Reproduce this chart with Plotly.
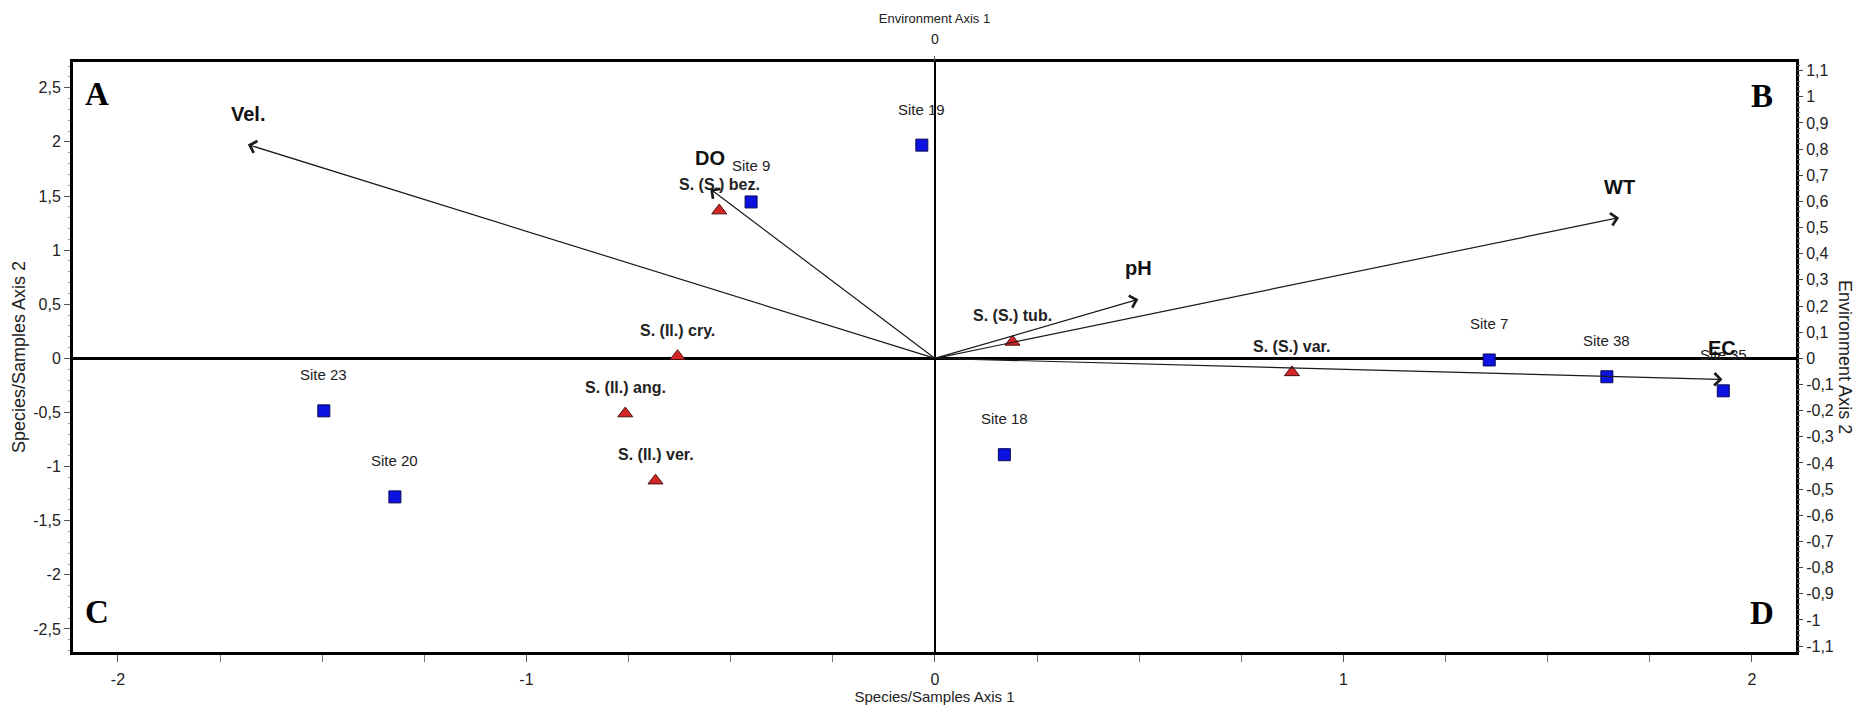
import plotly.graph_objects as go

# ---------------- data ----------------
site_names = ["Site 19", "Site 9", "Site 23", "Site 20", "Site 18", "Site 7", "Site 38", "Site 35"]
site_x = [-0.032, -0.45, -1.496, -1.322, 0.17, 1.357, 1.645, 1.93]
site_y = [1.97, 1.445, -0.485, -1.28, -0.89, -0.015, -0.17, -0.30]

species_names = ["S. (S.) bez.", "S. (Il.) cry.", "S. (Il.) ang.", "S. (Il.) ver.", "S. (S.) tub.", "S. (S.) var."]
species_x = [-0.528, -0.63, -0.758, -0.684, 0.19, 0.874]
species_y = [1.365, 0.02, -0.51, -1.13, 0.152, -0.13]

env_names = ["Vel.", "DO", "pH", "WT", "EC"]
env_x = [-1.682, -0.55, 0.498, 1.675, 1.928]
env_y = [1.975, 1.565, 0.545, 1.30, -0.195]

quadrant_letters = ["A", "B", "C", "D"]

x_tickvals = [-2, -1, 0, 1, 2]
x_ticktext = ["-2", "-1", "0", "1", "2"]
y_tickvals = [2.5, 2, 1.5, 1, 0.5, 0, -0.5, -1, -1.5, -2, -2.5]
y_ticktext = ["2,5", "2", "1,5", "1", "0,5", "0", "-0,5", "-1", "-1,5", "-2", "-2,5"]
y2_tickvals = [1.1, 1.0, 0.9, 0.8, 0.7, 0.6, 0.5, 0.4, 0.3, 0.2, 0.1, 0,
               -0.1, -0.2, -0.3, -0.4, -0.5, -0.6, -0.7, -0.8, -0.9, -1.0, -1.1]
y2_ticktext = ["1,1", "1", "0,9", "0,8", "0,7", "0,6", "0,5", "0,4", "0,3", "0,2", "0,1", "0",
               "-0,1", "-0,2", "-0,3", "-0,4", "-0,5", "-0,6", "-0,7", "-0,8", "-0,9", "-1", "-1,1"]
x2_tickvals = [0]
x2_ticktext = ["0"]

# ---------------- figure ----------------
TXT = "#222222"
FONT = "Arial, Liberation Sans, sans-serif"
fig = go.Figure()

# environmental arrows (annotation arrows from origin to tip)
for name, ex, ey in zip(env_names, env_x, env_y):
    fig.add_annotation(x=ex, y=ey, ax=0, ay=0, xref="x", yref="y", axref="x", ayref="y",
                       text="", showarrow=True, arrowhead=4, arrowsize=2.0,
                       arrowwidth=1.2, arrowcolor="#1a1a1a", standoff=0)

# species triangles
fig.add_trace(go.Scatter(
    x=species_x, y=species_y, mode="markers", name="Species",
    marker=dict(symbol="triangle-up", size=13, color="#d42626",
                line=dict(color="#4a0d0d", width=1)),
    hoverinfo="text", text=species_names, showlegend=False))

# site squares
fig.add_trace(go.Scatter(
    x=site_x, y=site_y, mode="markers", name="Sites",
    marker=dict(symbol="square", size=12, color="#0c12e0",
                line=dict(color="#0a0a55", width=1)),
    hoverinfo="text", text=site_names, showlegend=False))

# dummy trace for the environment axes
fig.add_trace(go.Scatter(x=[0], y=[0], xaxis="x2", yaxis="y2", mode="markers",
                         marker=dict(opacity=0), hoverinfo="skip", showlegend=False))

# labels
for name, sx, sy in zip(site_names, site_x, site_y):
    fig.add_annotation(x=sx, y=sy, xref="x", yref="y", text=name, showarrow=False,
                       yshift=36, font=dict(family=FONT, size=15, color=TXT))
for name, sx, sy in zip(species_names, species_x, species_y):
    fig.add_annotation(x=sx, y=sy, xref="x", yref="y", text="<b>%s</b>" % name, showarrow=False,
                       yshift=26, font=dict(family=FONT, size=16, color=TXT))
for name, ex, ey in zip(env_names, env_x, env_y):
    fig.add_annotation(x=ex, y=ey, xref="x", yref="y", text="<b>%s</b>" % name, showarrow=False,
                       yshift=31, font=dict(family=FONT, size=20, color="#111111"))

# quadrant letters
quad_pos = [(0.014, 0.946), (0.980, 0.942), (0.014, 0.068), (0.980, 0.066)]
for letter, (px, py) in zip(quadrant_letters, quad_pos):
    fig.add_annotation(x=px, y=py, xref="paper", yref="paper", text="<b>%s</b>" % letter,
                       showarrow=False, xanchor="center", yanchor="middle",
                       font=dict(family="Liberation Serif, Times New Roman, serif", size=33, color="#000000"))

# right axis title (reads top to bottom)
fig.add_annotation(x=1.0284, y=0.5, xref="paper", yref="paper", text="Environment Axis 2",
                   textangle=90, showarrow=False, xanchor="center", yanchor="middle",
                   font=dict(family=FONT, size=18, color=TXT))

tickfont = dict(family=FONT, size=16, color=TXT)

fig.update_layout(
    width=1856, height=697,
    margin=dict(l=65, r=68, t=54, b=53, autoexpand=False),
    paper_bgcolor="white", plot_bgcolor="white",
    showlegend=False,
    xaxis=dict(range=[-2.11, 2.108], tickmode="array", tickvals=x_tickvals, ticktext=x_ticktext,
               automargin=False,
               ticks="outside", ticklen=7, tickwidth=1, tickcolor="#555555", ticklabelstandoff=4,
               minor=dict(dtick=0.25, tick0=0, ticks="outside", ticklen=7, tickcolor="#777777"),
               showline=True, linewidth=3, linecolor="black", mirror=True,
               showgrid=False, zeroline=True, zerolinecolor="black", zerolinewidth=1.5,
               tickfont=tickfont,
               title=dict(text="Species/Samples Axis 1", font=dict(family=FONT, size=15, color=TXT),
                          standoff=11)),
    yaxis=dict(range=[-2.713, 2.738], tickmode="array", tickvals=y_tickvals, ticktext=y_ticktext,
               automargin=False,
               ticks="outside", ticklen=6, tickwidth=1, tickcolor="#555555",
               minor=dict(dtick=0.1, tick0=0, ticks="outside", ticklen=2, tickcolor="#999999"),
               showline=True, linewidth=3, linecolor="black", mirror=True,
               showgrid=False, zeroline=True, zerolinecolor="black", zerolinewidth=2.5,
               tickfont=tickfont,
               title=dict(text="Species/Samples Axis 2", font=dict(family=FONT, size=18, color=TXT),
                          standoff=3)),
    xaxis2=dict(overlaying="x", side="top", range=[-2.11, 2.108], tickmode="array",
                automargin=False,
                tickvals=x2_tickvals, ticktext=x2_ticktext, ticks="outside", ticklen=5,
                tickcolor="#555555", ticklabelstandoff=6, showline=False, showgrid=False,
                zeroline=False, tickfont=dict(family=FONT, size=14, color=TXT),
                title=dict(text="Environment Axis 1", font=dict(family=FONT, size=13, color=TXT),
                           standoff=4)),
    yaxis2=dict(overlaying="y", side="right", range=[-1.1227, 1.133], tickmode="array",
                automargin=False,
                tickvals=y2_tickvals, ticktext=y2_ticktext, ticks="outside", ticklen=6,
                tickcolor="#444444",
                minor=dict(dtick=0.02, tick0=0, ticks="outside", ticklen=3, tickcolor="#666666"),
                showline=False, showgrid=False, zeroline=False, tickfont=tickfont),
)

fig.write_html("out.html")
